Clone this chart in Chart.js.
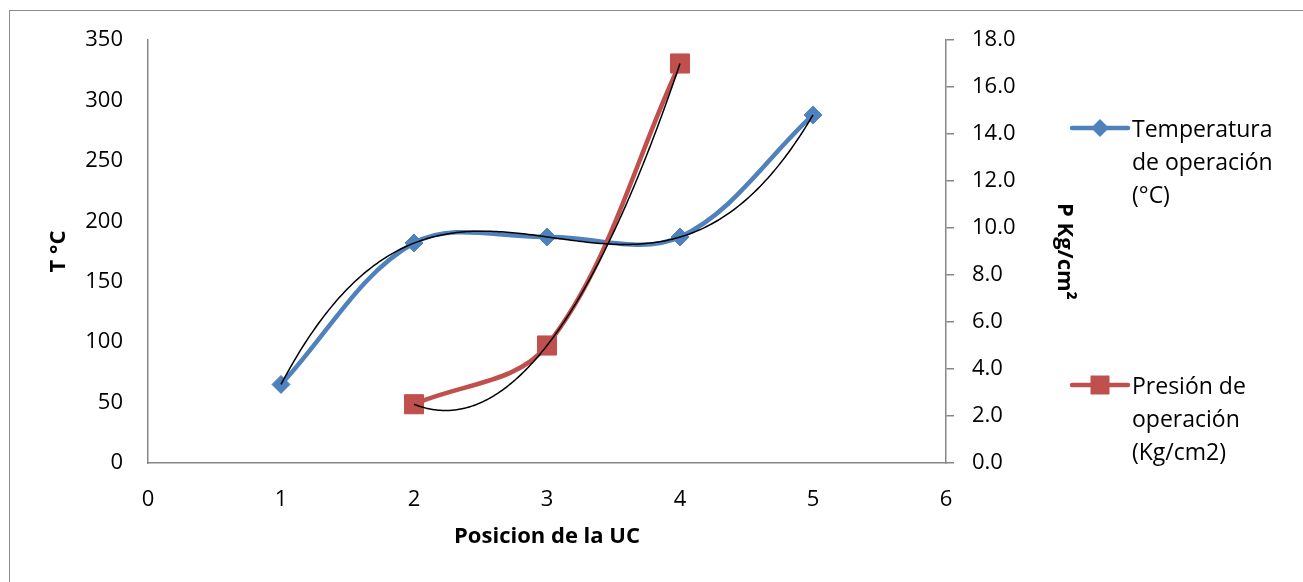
<!DOCTYPE html>
<html>
<head>
<meta charset="utf-8">
<script src="https://cdn.jsdelivr.net/npm/chart.js@4"></script>
<style>
  html, body { margin: 0; padding: 0; background: #fff; overflow: hidden; }
  #wrap { position: relative; width: 1303px; height: 582px; }
</style>
</head>
<body>
<div id="wrap"><canvas id="chart"></canvas></div>
<script>
// data
const posTemp = [1, 2, 3, 4, 5];
const temperatura = [65, 182, 187, 187, 288];
const posPres = [2, 3, 4];
const presion = [2.5, 5.0, 17.0];

const tempLabel = ['Temperatura', 'de operación', '(°C)'];
const presLabel = ['Presión de', 'operación', '(Kg/cm2)'];

const blue = '#4F81BD';
const red = '#C0504D';
const axisGray = '#868686';
const font = "'Open Sans', sans-serif";

const toPoints = (xs, ys) => xs.map((x, i) => ({ x: x, y: ys[i] }));

// least squares polynomial fit (same as the Excel trendline)
const polyFit = (xs, ys, order) => {
    const n = order + 1;
    const A = [];
    for (let r = 0; r < n; r++) {
        A.push([]);
        for (let c = 0; c < n; c++) {
            A[r].push(xs.reduce((s, x) => s + Math.pow(x, r + c), 0));
        }
        A[r].push(xs.reduce((s, x, i) => s + Math.pow(x, r) * ys[i], 0));
    }
    for (let i = 0; i < n; i++) {
        let p = i;
        for (let k = i + 1; k < n; k++) if (Math.abs(A[k][i]) > Math.abs(A[p][i])) p = k;
        [A[i], A[p]] = [A[p], A[i]];
        for (let k = i + 1; k < n; k++) {
            const f = A[k][i] / A[i][i];
            for (let c = i; c <= n; c++) A[k][c] -= f * A[i][c];
        }
    }
    const coef = new Array(n).fill(0);
    for (let i = n - 1; i >= 0; i--) {
        let s = A[i][n];
        for (let c = i + 1; c < n; c++) s -= A[i][c] * coef[c];
        coef[i] = s / A[i][i];
    }
    return coef;
};

const trendlines = [
    { xs: posTemp, ys: temperatura, order: 3, axis: 'y' },
    { xs: posPres, ys: presion, order: 2, axis: 'y1' }
];

const trendPlugin = {
    id: 'trend',
    afterDatasetsDraw(chart) {
        const ctx = chart.ctx;
        const xs = chart.scales.x;
        ctx.save();
        ctx.strokeStyle = '#000';
        ctx.lineWidth = 1.5;
        trendlines.forEach(t => {
            const coef = polyFit(t.xs, t.ys, t.order);
            const ys = chart.scales[t.axis];
            const x0 = Math.min(...t.xs), x1 = Math.max(...t.xs);
            ctx.beginPath();
            for (let i = 0; i <= 200; i++) {
                const x = x0 + (x1 - x0) * i / 200;
                const y = coef.reduce((s, c, k) => s + c * Math.pow(x, k), 0);
                const px = xs.getPixelForValue(x), py = ys.getPixelForValue(y);
                if (i === 0) ctx.moveTo(px, py); else ctx.lineTo(px, py);
            }
            ctx.stroke();
        });
        ctx.restore();
    }
};

const frameLegendPlugin = {
    id: 'frameLegend',
    beforeDraw(chart) {
        const ctx = chart.ctx;
        ctx.save();
        ctx.strokeStyle = '#8c8c8c';
        ctx.lineWidth = 1;
        ctx.strokeRect(9.5, 10.5, 1500, 800);
        ctx.restore();
    },
    afterDraw(chart) {
        const ctx = chart.ctx;
        const area = chart.chartArea;
        const lx = area.right + 126;
        const items = [
            { y: area.top + 88, color: blue, shape: 'diamond', lines: tempLabel },
            { y: area.top + 345, color: red, shape: 'square', lines: presLabel }
        ];
        ctx.save();
        items.forEach(it => {
            ctx.strokeStyle = it.color;
            ctx.fillStyle = it.color;
            ctx.lineWidth = 4.5;
            ctx.lineCap = 'round';
            ctx.beginPath();
            ctx.moveTo(lx, it.y);
            ctx.lineTo(lx + 56, it.y);
            ctx.stroke();
            ctx.beginPath();
            const cx = lx + 28;
            if (it.shape === 'diamond') {
                ctx.moveTo(cx, it.y - 9);
                ctx.lineTo(cx + 9, it.y);
                ctx.lineTo(cx, it.y + 9);
                ctx.lineTo(cx - 9, it.y);
            } else {
                ctx.rect(cx - 9.5, it.y - 9.5, 19, 19);
            }
            ctx.closePath();
            ctx.fill();
            ctx.fillStyle = '#000';
            ctx.font = '23px ' + font;
            ctx.textBaseline = 'middle';
            ctx.textAlign = 'left';
            it.lines.forEach((line, i) => {
                ctx.fillText(line, lx + 60, it.y + 2 + i * 33);
            });
        });
        ctx.restore();
    }
};

new Chart(document.getElementById('chart'), {
    type: 'scatter',
    data: {
        datasets: [
            {
                label: tempLabel.join(' '),
                data: toPoints(posTemp, temperatura),
                yAxisID: 'y',
                showLine: true,
                tension: 0.35,
                borderColor: blue,
                backgroundColor: blue,
                borderWidth: 4.5,
                pointStyle: 'rectRot',
                pointRadius: 9,
                pointBorderWidth: 1,
                order: 2
            },
            {
                label: presLabel.join(' '),
                data: toPoints(posPres, presion),
                yAxisID: 'y1',
                showLine: true,
                tension: 0.35,
                borderColor: red,
                backgroundColor: red,
                borderWidth: 4.5,
                pointStyle: 'rect',
                pointRadius: 13.5,
                pointBorderWidth: 1,
                order: 1
            }
        ]
    },
    options: {
        responsive: true,
        maintainAspectRatio: false,
        animation: false,
        layout: { padding: { left: 0, top: 40, right: 226, bottom: 0 } },
        plugins: {
            legend: { display: false },
            tooltip: { enabled: false }
        },
        scales: {
            x: {
                type: 'linear',
                min: 0,
                max: 6,
                ticks: { stepSize: 1, padding: 24, color: '#000', font: { family: font, size: 22 } },
                grid: { display: false, drawTicks: false },
                border: { display: true, color: axisGray, width: 1.5 },
                title: {
                    display: true,
                    text: 'Posicion de la UC',
                    color: '#000',
                    font: { family: font, size: 22, weight: 'bold' },
                    padding: { top: 0, bottom: 32 }
                },
                afterFit: s => { s.height = 119; }
            },
            y: {
                position: 'left',
                min: 0,
                max: 350,
                ticks: { stepSize: 50, padding: 25, color: '#000', font: { family: font, size: 22 } },
                grid: { display: false, drawTicks: false },
                border: { display: true, color: axisGray, width: 1.5 },
                title: {
                    display: true,
                    text: 'T °C',
                    color: '#000',
                    font: { family: font, size: 22, weight: 'bold' },
                    padding: { top: 46, bottom: 0 }
                },
                afterFit: s => { s.width = 148; }
            },
            y1: {
                position: 'right',
                min: 0,
                max: 18,
                ticks: {
                    stepSize: 2,
                    padding: 18,
                    color: '#000',
                    font: { family: font, size: 22 },
                    callback: v => v.toFixed(1)
                },
                grid: { drawOnChartArea: false, drawTicks: true, tickLength: 8, color: axisGray, lineWidth: 1.5 },
                border: { display: true, color: axisGray, width: 1.5 },
                title: {
                    display: true,
                    text: 'P Kg/cm²',
                    color: '#000',
                    font: { family: font, size: 22, weight: 'bold' },
                    padding: { top: 0, bottom: 0 }
                },
                afterFit: s => { s.width = 131; }
            }
        }
    },
    plugins: [trendPlugin, frameLegendPlugin]
});
</script>
</body>
</html>
